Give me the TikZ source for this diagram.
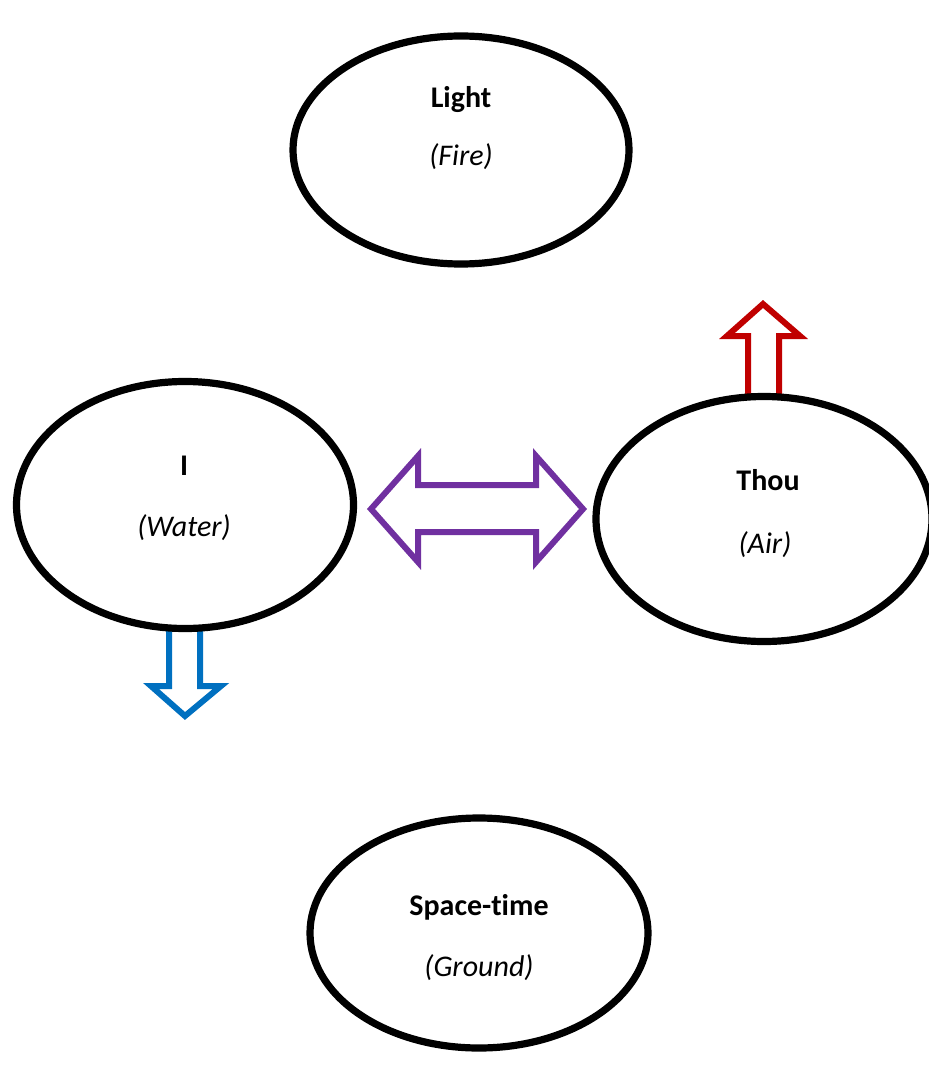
\documentclass[tikz,border=0pt]{standalone}
\usepackage{fontspec}
\setmainfont[Ligatures=NoCommon]{Carlito}
\usetikzlibrary{shapes}
\definecolor{firered}{HTML}{C00000}
\definecolor{waterblue}{HTML}{0070C0}
\definecolor{bondpurple}{HTML}{7030A0}
\tikzstyle{element} = [ellipse, draw, line width=3.6pt, inner sep=0pt]
\tikzstyle{title} = [anchor=base, font=\fontsize{15}{18}\selectfont\bfseries, inner sep=0pt]
\tikzstyle{kind} = [anchor=base, font=\fontsize{15}{18}\selectfont\itshape, inner sep=0pt]
\tikzstyle{hollow} = [draw, line width=3pt, line join=miter]

\begin{document}
\begin{tikzpicture}[x=0.5pt, y=-0.5pt]
		\useasboundingbox (0,0) rectangle (928,1069);

		% block arrows
		\draw [hollow, bondpurple] (371,509) -- (418,456) -- (418,485) -- (536,485) -- (536,456) -- (583,509)
			-- (536,562) -- (536,532) -- (418,532) -- (418,562) -- cycle;
		\draw [hollow, firered] (748,397) -- (748,336) -- (727,336) -- (763,304) -- (800,336) -- (779,336) -- (779,397);
		\draw [hollow, waterblue] (169,630) -- (169,686) -- (151,686) -- (185,716) -- (221,686) -- (200,686) -- (200,630);

		% elements
		\node [element, minimum width=168pt, minimum height=114pt] (light) at (461,150) {};
		\node [element, minimum width=168.5pt, minimum height=123.5pt] (i) at (185,505) {};
		\node [element, minimum width=168pt, minimum height=122.5pt] (thou) at (764,519) {};
		\node [element, minimum width=169pt, minimum height=115pt] (spacetime) at (479,933) {};

		\node [title] (light-title) at (461,108) {Light};
		\node [kind] (light-kind) at (461,166) {(Fire)};
		\node [title] (i-title) at (184,475) {I};
		\node [kind] (i-kind) at (184,536) {(Water)};
		\node [title] (thou-title) at (768,490) {Thou};
		\node [kind] (thou-kind) at (765,553) {(Air)};
		\node [title] (spacetime-title) at (479,915) {Space-time};
		\node [kind] (spacetime-kind) at (479,976) {(Ground)};
	\end{tikzpicture}
\end{document}
